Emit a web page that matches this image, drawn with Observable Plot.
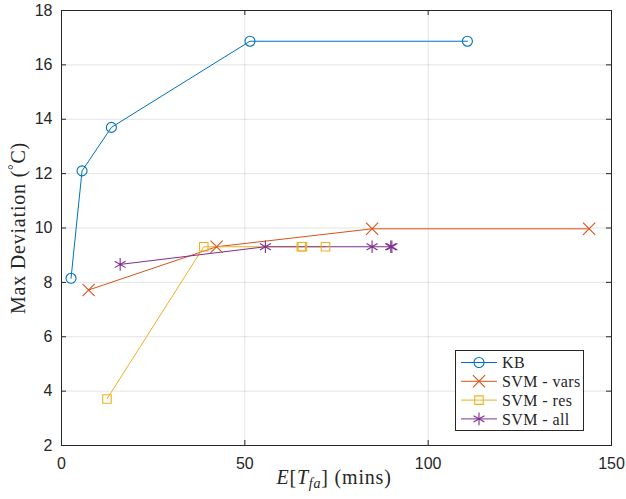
<!DOCTYPE html>
<html><head><meta charset="utf-8">
<script src="https://cdn.jsdelivr.net/npm/d3@7"></script>
<script src="https://cdn.jsdelivr.net/npm/@observablehq/plot@0.6"></script>
<style>body{margin:0;background:#fff}</style>
</head><body><div id="chart"></div>
<script>
const seriesNames = ["KB", "SVM - vars", "SVM - res", "SVM - all"];
const kbX = [2.6, 5.6, 13.6, 51.4, 110.7];
const kbY = [8.15, 12.1, 13.7, 16.87, 16.87];
const varsX = [7.4, 42.3, 84.7, 143.9];
const varsY = [7.72, 9.31, 9.97, 9.97];
const resX = [12.4, 38.8, 65.4, 65.7, 72.0];
const resY = [3.71, 9.31, 9.31, 9.31, 9.31];
const allX = [16.0, 55.6, 84.7, 89.8, 90.1];
const allY = [8.66, 9.31, 9.31, 9.31, 9.31];
const xTicks = [0, 50, 100, 150];
const yTicks = [2, 4, 6, 8, 10, 12, 14, 16, 18];
const colors = ["#0072BD", "#D95319", "#EDB120", "#7E2F8E"];
const symbols = ["circle", "times", "square", "asterisk"];
const symbolR = [5, 5.6, 4.8, 6];

const xs = [kbX, varsX, resX, allX], ys = [kbY, varsY, resY, allY];
const rows = [];
seriesNames.forEach((s, i) => xs[i].forEach((x, j) => rows.push({series: s, x, y: ys[i][j]})));

const W = 626, H = 499, mL = 61, mR = 15, mT = 10, mB = 54;
const fw = W - mL - mR, fh = H - mT - mB;
const axisCol = "#262626";

const dots = seriesNames.map((s, i) =>
  Plot.dot(rows.filter(d => d.series === s), {x: "x", y: "y", symbol: "series", stroke: "series", fill: "none", r: symbolR[i], strokeWidth: 1.1})
);

const plot = Plot.plot({
  width: W, height: H, marginLeft: mL, marginRight: mR, marginTop: mT, marginBottom: mB,
  style: {fontFamily: "'Liberation Sans', Arial, sans-serif", fontSize: "16px", color: axisCol, background: "#fff", overflow: "visible"},
  x: {domain: [0, 150]},
  y: {domain: [2, 18]},
  color: {domain: seriesNames, range: colors},
  symbol: {domain: seriesNames, range: symbols},
  marks: [
    Plot.gridX(xTicks, {stroke: "#000", strokeOpacity: 0.11, strokeWidth: 1}),
    Plot.gridY(yTicks, {stroke: "#000", strokeOpacity: 0.11, strokeWidth: 1}),
    Plot.axisX(xTicks, {tickSize: 0, tickPadding: 12, label: null, fontSize: 16}),
    Plot.axisY(yTicks, {tickSize: 0, tickPadding: 9, label: null, fontSize: 16}),
    Plot.tickX(xTicks, {x: d => d, insetTop: fh - 5, stroke: axisCol}),
    Plot.tickX(xTicks, {x: d => d, insetBottom: fh - 5, stroke: axisCol}),
    Plot.tickY(yTicks, {y: d => d, insetRight: fw - 5, stroke: axisCol}),
    Plot.tickY(yTicks, {y: d => d, insetLeft: fw - 5, stroke: axisCol}),
    Plot.line(rows, {x: "x", y: "y", z: "series", stroke: "series", strokeWidth: 1}),
    ...dots,
    Plot.frame({stroke: axisCol, strokeWidth: 1})
  ]
});
document.getElementById("chart").appendChild(plot);

const svg = d3.select(plot);
const serif = "'Liberation Serif', 'DejaVu Serif', serif";
// axis labels
const xl = svg.append("text").attr("x", 334).attr("y", 484).attr("text-anchor", "middle")
  .attr("font-family", serif).attr("font-size", 20).attr("letter-spacing", 0.8).attr("fill", axisCol);
xl.append("tspan").attr("font-style", "italic").text("E");
xl.append("tspan").text("[");
xl.append("tspan").attr("font-style", "italic").text("T");
xl.append("tspan").attr("font-style", "italic").attr("font-size", 14).attr("dy", 4).text("fa");
xl.append("tspan").attr("dy", -4).text("] (mins)");

const yl = svg.append("text").attr("transform", "translate(25,228) rotate(-90)").attr("text-anchor", "middle")
  .attr("font-family", serif).attr("font-size", 20).attr("letter-spacing", 0.8).attr("fill", axisCol);
yl.append("tspan").text("Max Deviation (");
yl.append("tspan").attr("font-size", 14).attr("dy", -7).text("°");
yl.append("tspan").attr("dy", 7).text("C)");

// legend
const lg = svg.append("g");
lg.append("rect").attr("x", 455.5).attr("y", 350.5).attr("width", 128).attr("height", 80)
  .attr("fill", "#fff").attr("stroke", axisCol).attr("stroke-width", 1);
seriesNames.forEach((s, i) => {
  const y = 362.5 + i * 18.8;
  lg.append("line").attr("x1", 461).attr("x2", 497).attr("y1", y).attr("y2", y)
    .attr("stroke", colors[i]).attr("stroke-width", 1);
  const sym = {circle: d3.symbolCircle, times: d3.symbolTimes, square: d3.symbolSquare, asterisk: d3.symbolAsterisk}[symbols[i]];
  lg.append("path").attr("transform", `translate(479,${y})`)
    .attr("d", d3.symbol(sym, symbolR[i] * symbolR[i] * Math.PI)())
    .attr("fill", "none").attr("stroke", colors[i]).attr("stroke-width", 1.1);
  lg.append("text").attr("x", 502).attr("y", y).attr("dy", "0.35em").attr("text-anchor", "start")
    .attr("font-family", serif).attr("font-size", 16).attr("letter-spacing", 0.4).attr("fill", axisCol).text(s);
});
</script>
</body></html>
